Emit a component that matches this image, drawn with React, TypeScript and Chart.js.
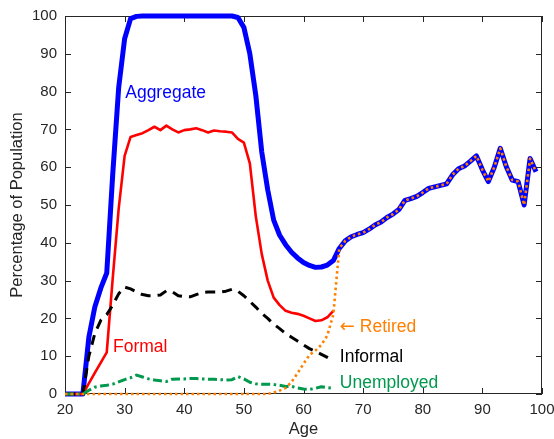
import { useEffect, useRef } from "react";
import { Chart, registerables } from "chart.js";

Chart.register(...registerables);

// Age in years
const ages = [
  20, 21, 22, 23, 24, 25, 26, 27, 28, 29,
  30, 31, 32, 33, 34, 35, 36, 37, 38, 39,
  40, 41, 42, 43, 44, 45, 46, 47, 48, 49,
  50, 51, 52, 53, 54, 55, 56, 57, 58, 59,
  60, 61, 62, 63, 64, 65, 66, 67, 68, 69,
  70, 71, 72, 73, 74, 75, 76, 77, 78, 79,
  80, 81, 82, 83, 84, 85, 86, 87, 88, 89,
  90, 91, 92, 93, 94, 95, 96, 97, 98, 99,
];

// Percentage of population, ages 20-99
const aggregate = [
  0, 0, 0, 0, 15, 23, 28, 32, 58, 81,
  94, 99.3, 99.9, 100, 100, 100, 100, 100, 100, 100,
  100, 100, 100, 100, 100, 100, 100, 100, 100, 99.6,
  97, 90, 79, 64, 54, 46, 42, 39.5, 37.5, 36,
  34.8, 34, 33.5, 33.6, 34.1, 35.3, 38.5, 40.5, 41.6, 42.2,
  42.7, 43.6, 44.7, 45.5, 46.7, 47.6, 48.8, 51.2, 51.7, 52.3,
  53.3, 54.4, 54.8, 55.2, 55.6, 58, 59.6, 60.3, 61.6, 63,
  59.3, 56.2, 60, 65, 60.2, 56.6, 56.2, 50, 62.3, 58.8,
];

// Ages 20-65
const formal = [
  0, 0, 0, 0, 2.8, 5.6, 8.3, 11, 30.5, 49,
  63, 68, 68.5, 69, 69.8, 70.7, 69.8, 71, 70, 69.2,
  69.8, 70, 70.3, 69.8, 69.2, 69.7, 69.5, 69.4, 69.2, 67.5,
  66.5, 61, 47, 37, 30, 25.5, 23.5, 22, 21.5, 21.2,
  20.7, 20, 19.3, 19.5, 20.3, 22,
];

const informal = [
  0, 0, 0, 0, 10, 16, 19.5, 21, 23.5, 26.5,
  28.3, 27.8, 27, 26.3, 26, 26, 26.2, 27.3, 27, 26,
  25.8, 25.7, 26.3, 26.8, 27, 27, 27, 27.2, 27.7, 27.2,
  26, 24.5, 23, 21.3, 20, 18.5, 17.3, 16, 15, 14,
  13, 12, 11.3, 10.5, 9.7, 8.8,
];

const unemployed = [
  0, 0, 0, 0, 1, 1.8, 2.1, 2.3, 2.6, 3.2,
  3.8, 4.3, 5, 4.5, 4, 3.7, 3.5, 3.3, 3.9, 4,
  4, 4.1, 4.1, 4, 3.9, 3.9, 3.8, 3.7, 3.8, 4.6,
  4, 3.1, 2.7, 2.6, 2.6, 2.5, 2.3, 2, 2, 1.6,
  1.3, 1.2, 1.5, 1.9, 1.7, 1.5,
];

// Retired share up to 65; past 65 everyone alive is retired
const retiredTo65 = [
  0, 0, 0, 0, 0, 0, 0, 0, 0, 0,
  0, 0, 0, 0, 0, 0, 0, 0, 0, 0,
  0, 0, 0, 0, 0, 0, 0, 0, 0, 0,
  0, 0, 0, 0, 0, 0.4, 0.9, 1.6, 3.2, 5.5,
  8, 10.3, 11.5, 13, 15.5, 21,
];
const retired = [...retiredTo65, ...aggregate.slice(retiredTo65.length)];

const xTicks = [20, 30, 40, 50, 60, 70, 80, 90, 100];
const yTicks = [0, 10, 20, 30, 40, 50, 60, 70, 80, 90, 100];

const BLUE = "#0000ff";
const RED = "#ff0000";
const BLACK = "#000000";
const GREEN = "#00994d";
const ORANGE = "#ff8000";
const AXIS = "#262626";
const FONT = "'Liberation Sans', 'DejaVu Sans', Arial, sans-serif";

// In-plot labels, anchored in data coordinates (left edge, vertical middle);
// an optional arrow glyph is drawn in front of the text
const annotations = [
  { arrow: "", text: "Aggregate", age: 30.1, value: 79.6, color: BLUE },
  { arrow: "", text: "Formal", age: 28.05, value: 12.4, color: RED },
  { arrow: "\u2190", text: " Retired", age: 66.1, value: 17.7, color: ORANGE },
  { arrow: "", text: "Informal", age: 66.1, value: 9.8, color: BLACK },
  { arrow: "", text: "Unemployed", age: 66.1, value: 2.9, color: GREEN },
];

const pairs = (vals: number[]) => vals.map((v, i) => ({ x: ages[i], y: v }));

const framePlugin = {
  id: "frame",
  beforeDatasetsDraw(chart: any) {
    const { ctx, chartArea: a, scales } = chart;
    const xs = scales.x;
    const ys = scales.y;
    ctx.save();
    ctx.strokeStyle = AXIS;
    ctx.lineWidth = 1;
    ctx.strokeRect(a.left + 0.5, a.top + 0.5, a.right - a.left - 1, a.bottom - a.top - 1);
    ctx.beginPath();
    const len = 6;
    for (const v of xTicks) {
      const px = Math.round(xs.getPixelForValue(v)) + 0.5;
      ctx.moveTo(px, a.bottom);
      ctx.lineTo(px, a.bottom - len);
      ctx.moveTo(px, a.top);
      ctx.lineTo(px, a.top + len);
    }
    for (const v of yTicks) {
      const py = Math.round(ys.getPixelForValue(v)) + 0.5;
      ctx.moveTo(a.left, py);
      ctx.lineTo(a.left + len, py);
      ctx.moveTo(a.right, py);
      ctx.lineTo(a.right - len, py);
    }
    ctx.stroke();
    ctx.restore();
  },
  afterDatasetsDraw(chart: any) {
    const { ctx, scales } = chart;
    ctx.save();
    ctx.textAlign = "left";
    ctx.textBaseline = "middle";
    for (const an of annotations) {
      ctx.fillStyle = an.color;
      let x = scales.x.getPixelForValue(an.age);
      const y = scales.y.getPixelForValue(an.value);
      if (an.arrow) {
        ctx.font = `18px 'DejaVu Sans', sans-serif`;
        ctx.fillText(an.arrow, x, y);
        x += ctx.measureText(an.arrow).width;
      }
      ctx.font = `17.5px ${FONT}`;
      ctx.fillText(an.text, x, y);
    }
    ctx.restore();
  },
};

export default function App() {
  const ref = useRef<HTMLCanvasElement>(null);

  useEffect(() => {
    const line = (
      label: string,
      vals: number[],
      color: string,
      width: number,
      dash: number[]
    ) => ({
      label,
      data: pairs(vals),
      borderColor: color,
      backgroundColor: color,
      borderWidth: width,
      borderDash: dash,
      borderJoinStyle: "round" as const,
      borderCapStyle: "butt" as const,
      pointRadius: 0,
      tension: 0,
      fill: false,
      clip: false as const,
    });

    const chart = new Chart(ref.current!, {
      type: "line",
      data: {
        datasets: [
          line("Retired", retired, ORANGE, 2.6, [2.5, 3]),
          line("Unemployed", unemployed, GREEN, 3, [9, 3.5, 2.5, 3.5]),
          line("Informal", informal, BLACK, 3, [10, 7]),
          line("Formal", formal, RED, 2.6, []),
          line("Aggregate", aggregate, BLUE, 5, []),
        ],
      },
      options: {
        animation: false,
        responsive: false,
        devicePixelRatio: 1,
        layout: { padding: { left: 0, top: 16, right: 12, bottom: 0 } },
        plugins: {
          legend: { display: false },
          tooltip: { enabled: false },
        },
        scales: {
          x: {
            type: "linear",
            min: 20,
            max: 100,
            grid: { display: false, drawTicks: false },
            border: { display: false },
            ticks: {
              stepSize: 10,
              padding: 7,
              color: AXIS,
              font: { family: FONT, size: 15 },
              maxRotation: 0,
            },
            title: {
              display: true,
              text: "Age",
              color: AXIS,
              font: { family: FONT, size: 16.5 },
              padding: { top: 0, bottom: 0 },
            },
            afterFit(scale: any) {
              scale.height = 45;
              scale.paddingLeft = 0;
              scale.paddingRight = 0;
            },
          },
          y: {
            type: "linear",
            min: 0,
            max: 100,
            grid: { display: false, drawTicks: false },
            border: { display: false },
            ticks: {
              stepSize: 10,
              padding: 8,
              color: AXIS,
              font: { family: FONT, size: 15 },
            },
            title: {
              display: true,
              text: "Percentage of Population",
              color: AXIS,
              font: { family: FONT, size: 16.5 },
              padding: { top: 8, bottom: 0 },
            },
            afterFit(scale: any) {
              scale.width = 65;
              scale.paddingTop = 0;
              scale.paddingBottom = 0;
            },
          },
        },
      },
      plugins: [framePlugin],
    });
    return () => chart.destroy();
  }, []);

  return (
    <div
      style={{
        position: "fixed",
        left: 0,
        top: 0,
        width: 554,
        height: 439,
        background: "#ffffff",
      }}
    >
      <canvas ref={ref} width={554} height={439} style={{ width: 554, height: 439, display: "block" }} />
    </div>
  );
}
